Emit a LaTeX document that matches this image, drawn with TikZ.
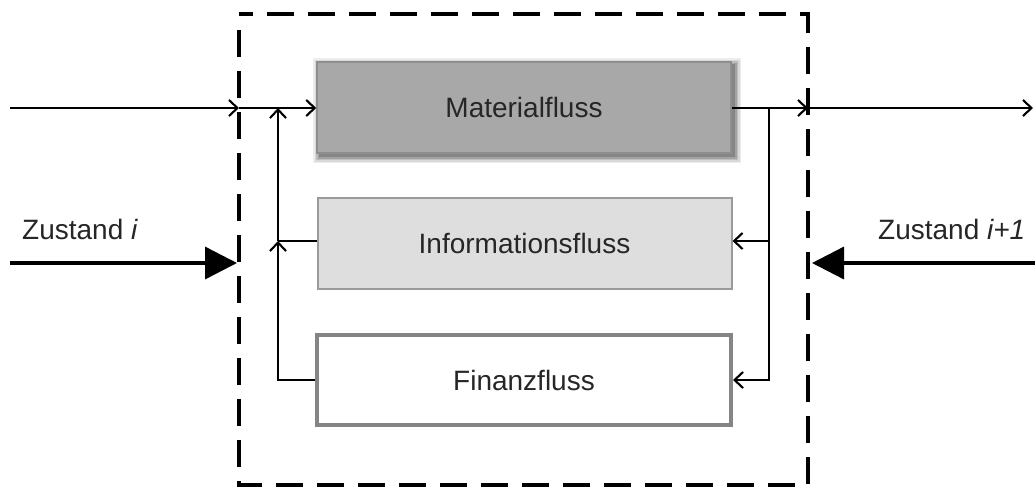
\documentclass[tikz,border=0pt]{standalone}
\usepackage{fontspec}
\setmainfont{Liberation Sans}
\usetikzlibrary{arrows.meta,calc}

\definecolor{txtgray}{HTML}{262626}
\definecolor{matfill}{HTML}{A8A8A8}
\definecolor{matline}{HTML}{8E8E8E}
\definecolor{infofill}{HTML}{DEDEDE}
\definecolor{infoline}{HTML}{9A9A9A}
\definecolor{finline}{HTML}{858585}

\tikzset{
  flowbox/.style={rectangle, minimum width=414pt, minimum height=91pt,
    inner sep=0pt, font=\fontsize{28}{33}\selectfont, text=txtgray},
  flow/.style={line width=2.1pt, draw=black},
  flowtip/.style={flow, -{Straight Barb[length=8.5pt,width=16pt,line width=2.1pt]}},
  state/.style={line width=3.4pt, -{Triangle[length=32pt,width=32pt]}},
  statelabel/.style={font=\fontsize{28}{33}\selectfont, text=txtgray, anchor=base west, inner sep=0pt},
  boundary/.style={line width=4.5pt, dash pattern=on 27pt off 14pt}
}

\begin{document}
\begin{tikzpicture}[x=1pt, y=-1pt]
  \useasboundingbox (0,0) rectangle (1035,488);

  % system boundary
  \draw[boundary] (239,30) -- (239,485) -- (808,485) -- (808,14) -- (239,14);

  % soft shadow behind the material flow box
  \foreach \d/\o in {7/0.07,5.5/0.09,4/0.12,2.5/0.15,1/0.18}{
    \fill[black, opacity=\o] (317-\d+3,62-\d+3) rectangle (731+\d+3,153+\d+3);
  }

  % the three flows
  \node[flowbox, fill=matfill, draw=matline, line width=1.5pt] (mat) at (524,107.5) {Materialfluss};
  \node[flowbox, fill=infofill, draw=infoline, line width=2pt] (info) at (524.5,243) {Informationsfluss};
  \node[flowbox, fill=white, draw=finline, line width=4pt, minimum height=90pt] (fin) at (524,380) {Finanzfluss};

  % junction points
  \coordinate (inL) at (10,108);
  \coordinate (dashL) at (239,108);
  \coordinate (dashR) at (808,108);
  \coordinate (outR) at (1033,108);
  \coordinate (jl1) at (278,108);
  \coordinate (jl2) at (278,241);
  \coordinate (jr1) at (769,108);
  \coordinate (jr2) at (769,241);

  % material flow through the system
  \draw[flowtip] (inL) -- (dashL);
  \draw[flowtip] (dashL) -- (mat.west |- dashL);
  \draw[flowtip] (mat.east |- dashR) -- (dashR);
  \draw[flowtip] (dashR) -- (outR);

  % feedback to the information and finance flows
  \draw[flow] (jr1) -- (jr2);
  \draw[flowtip] (jr2) -- (info.east |- jr2);
  \draw[flowtip] (jr2) |- (fin.east);

  % information and finance flows back to the material flow
  \draw[flow] (info.west |- jl2) -- (jl2);
  \draw[flowtip] (fin.west) -| (jl2);
  \draw[flowtip] (jl2) -- (jl1);

  % states before and after
  \coordinate (zl) at (10,263);
  \coordinate (zlT) at (237,263);
  \coordinate (zr) at (1035,263);
  \coordinate (zrT) at (812,263);
  \draw[state] (zl) -- (zlT);
  \draw[state] (zr) -- (zrT);
  \node[statelabel] (lblL) at (22,239) {Zustand \textit{i}};
  \node[statelabel] (lblR) at (878,239) {Zustand \textit{i+1}};
\end{tikzpicture}
\end{document}
